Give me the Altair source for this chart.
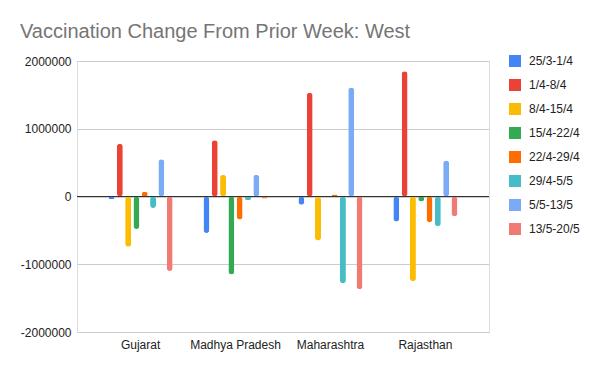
import altair as alt
import pandas as pd

states = ["Gujarat", "Madhya Pradesh", "Maharashtra", "Rajasthan"]
weeks = ["25/3-1/4", "1/4-8/4", "8/4-15/4", "15/4-22/4", "22/4-29/4", "29/4-5/5", "5/5-13/5", "13/5-20/5"]
colors = ["#4285F4", "#EA4335", "#FBBC04", "#34A853", "#FF6D01", "#46BDC6", "#7BAAF7", "#F07B72"]

gujarat = [-40000, 780000, -740000, -480000, 70000, -170000, 550000, -1100000]
madhya_pradesh = [-540000, 830000, 320000, -1150000, -340000, -50000, 320000, -30000]
maharashtra = [-120000, 1530000, -650000, 5000, 30000, -1280000, 1610000, -1370000]
rajasthan = [-370000, 1850000, -1250000, -70000, -380000, -440000, 530000, -290000]

values = [gujarat, madhya_pradesh, maharashtra, rajasthan]
rows = []
for s, vals in zip(states, values):
    for w, v in zip(weeks, vals):
        rows.append({"State": s, "Week": w, "Change": v})
df = pd.DataFrame(rows)

font = "Liberation Sans"

bars = alt.Chart(df).mark_bar(cornerRadius=3).encode(
    x=alt.X("State:N", sort=states, title=None,
            scale=alt.Scale(paddingInner=0.3, paddingOuter=0.32),
            axis=alt.Axis(labelAngle=0, ticks=False, domain=False, grid=False,
                          labelFont=font, labelFontSize=12, labelColor="#222222",
                          labelPadding=7)),
    xOffset=alt.XOffset("Week:N", sort=weeks,
                        scale=alt.Scale(paddingInner=0.28, paddingOuter=0.14)),
    y=alt.Y("Change:Q", title=None,
            scale=alt.Scale(domain=[-2000000, 2000000], nice=False),
            axis=alt.Axis(values=[-2000000, -1000000, 0, 1000000, 2000000],
                          labelExpr="'' + datum.value",
                          ticks=False, domain=False, gridColor="#cccccc",
                          labelFont=font, labelFontSize=12, labelColor="#222222",
                          labelPadding=6)),
    color=alt.Color("Week:N", sort=weeks,
                    scale=alt.Scale(domain=weeks, range=colors),
                    legend=alt.Legend(title=None, orient="none", legendX=432, legendY=-6,
                                      symbolType="square", symbolSize=144,
                                      symbolStrokeWidth=0, labelFont=font,
                                      labelFontSize=12, labelColor="#222222",
                                      rowPadding=12, labelOffset=8, padding=0)),
)

zero = alt.Chart(pd.DataFrame({"y": [0]})).mark_rule(color="#333333", strokeWidth=1).encode(
    y=alt.Y("y:Q", scale=alt.Scale(domain=[-2000000, 2000000], nice=False))
)

chart = alt.layer(bars, zero).properties(
    width=412,
    height=271,
    autosize=alt.AutoSizeParams(type="none"),
    padding={"left": 69, "top": 53, "right": 103, "bottom": 31},
    title=alt.TitleParams("Vaccination Change From Prior Week: West", anchor="start",
                          frame="group", dx=-57, dy=-3, font=font, fontSize=20,
                          fontWeight="normal", color="#757575", offset=10),
).configure_view(stroke=None).configure(background="white")

chart.save("out.html", embed_options={"renderer": "svg", "actions": False})
